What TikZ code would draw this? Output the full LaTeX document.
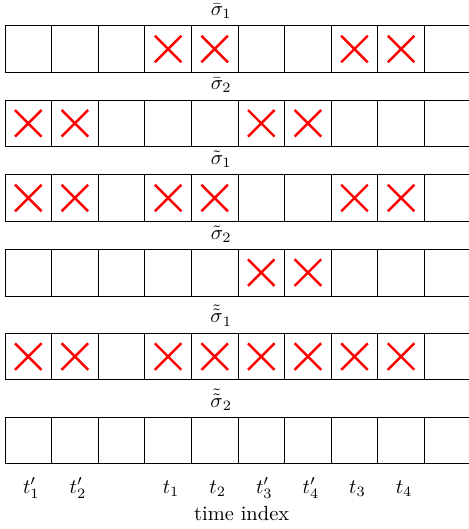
\documentclass[tikz,border=0pt]{standalone}
\begin{document}
\begin{tikzpicture}[x=0.8cm,y=0.8cm,
  cell/.style={draw=black,line width=0.4pt},
  xmark/.style={draw=red,line width=1.2pt},
  rowlab/.style={anchor=south,inner sep=3.33pt},
  timelab/.style={anchor=base}]
\useasboundingbox (-0.107,0) rectangle (9.957,-11.352);
% rows of cells with labels and crosses
\foreach \r/\T/\lab/\marks in {
  1/0.552/{\bar{\sigma}_1}/{3,4,7,8},
  2/2.146/{\bar{\sigma}_2}/{0,1,5,6},
  3/3.749/{\tilde{\sigma}_1}/{0,1,3,4,7,8},
  4/5.350/{\tilde{\sigma}_2}/{5,6},
  5/7.152/{\tilde{\tilde{\sigma}}_1}/{0,1,3,4,5,6,7,8}}{
  \foreach \i in {0,...,9}{
    \draw[cell] (\i,-\T) rectangle (\i+1,-\T-1);
  }
  \node[rowlab] (l\r) at (4.64,-\T) {$\lab$};
  \foreach \m in \marks{
    \draw[xmark] (\m+0.215,-\T-0.215) -- (\m+0.785,-\T-0.785)
                 (\m+0.215,-\T-0.785) -- (\m+0.785,-\T-0.215);
  }
}
% last row (no crosses)
\foreach \i in {0,...,9}{
  \draw[cell] (\i,-8.955) rectangle (\i+1,-9.955);
}
\node[rowlab] (l6) at (4.64,-8.955) {$\tilde{\tilde{\sigma}}_2$};
% time labels
\foreach \i/\t in {0/t'_1,1/t'_2,3/t_1,4/t_2,5/t'_3,6/t'_4,7/t_3,8/t_4}{
  \node[timelab] (b\i) at (\i+0.565,-10.58) {$\t$};
}
\node[timelab] (xlab) at (5.079,-11.16) {time index};
\end{tikzpicture}
\end{document}
